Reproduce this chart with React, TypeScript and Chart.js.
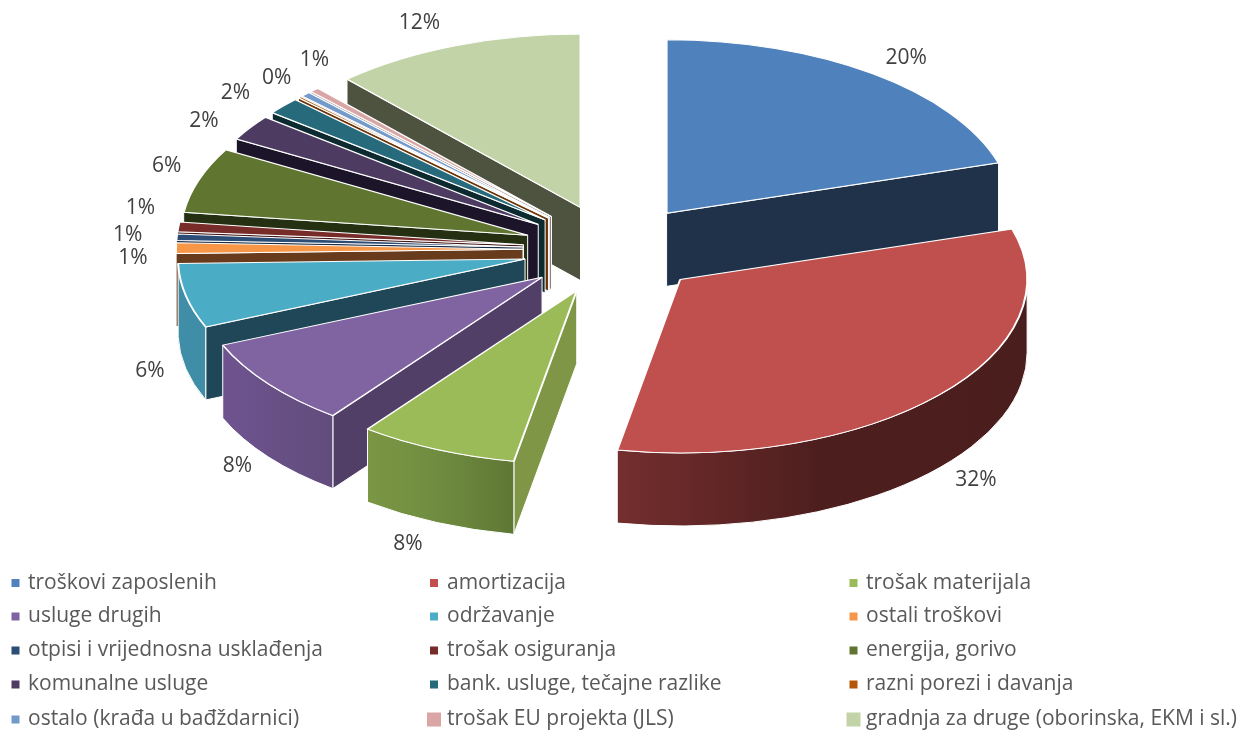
import React, { useEffect, useRef } from "react";
import { Chart, registerables } from "chart.js";

Chart.register(...registerables);

const categories = [
  "troškovi zaposlenih", "amortizacija", "trošak materijala",
  "usluge drugih", "održavanje", "ostali troškovi",
  "otpisi i vrijednosna usklađenja", "trošak osiguranja", "energija, gorivo",
  "komunalne usluge", "bank. usluge, tečajne razlike", "razni porezi i davanja",
  "ostalo (krađa u bađždarnici)", "trošak EU projekta (JLS)", "gradnja za druge (oborinska, EKM i sl.)",
];
const sliceShares = [20.3, 32.6, 7.4, 8.3, 6.0, 1.0, 0.6, 0.9, 6.1, 2.4, 1.6, 0.15, 0.45, 0.45, 11.75];
const percentLabels = ["20%", "32%", "8%", "8%", "6%", "1%", "1%", "1%", "6%", "2%", "2%", "0%", "", "1%", "12%"];
const topColors = ["#4F81BD", "#C0504D", "#9BBB59", "#8064A2", "#4BACC6", "#F79646", "#2C4D75", "#772C2A", "#5F7530", "#4D3B62", "#276A7C", "#B65708", "#729ACA", "#D9A6A5", "#C3D3A8"];
const radialWallColors = ["#1F3249", "#4D1E1E", "#7F9646", "#523F68", "#1F4757", "#683B1C", "#1A2D44", "#451A19", "#252F12", "#1C1428", "#0E2A31", "#6B3305", "#44597A", "#806261", "#4E5340"];
const rimWallLeft = ["#1F3249", "#742E2E", "#7B9744", "#6F5390", "#3F8DA6", "#683B1C", "#1A2D44", "#451A19", "#252F12", "#1C1428", "#0E2A31", "#6B3305", "#44597A", "#806261", "#4E5340"];
const rimWallMid = ["#1F3249", "#4D1E1E", "#6F8B3F", "#685085", "#3F8DA6", "#683B1C", "#1A2D44", "#451A19", "#252F12", "#1C1428", "#0E2A31", "#6B3305", "#44597A", "#806261", "#4E5340"];
const rimWallRight = ["#1F3249", "#4B1E1E", "#5F7735", "#624C7C", "#3F8DA6", "#683B1C", "#1A2D44", "#451A19", "#252F12", "#1C1428", "#0E2A31", "#6B3305", "#44597A", "#806261", "#4E5340"];
const labelShiftX = [33, 37, -29, -31, -36, -43, -49, -38, -32, -46, -48, -23, 0, 0, -36];
const labelShiftY = [-16, 85, 95, 82, 75, 10, -2, -19, -14, -7, -13, -19, 0, -30, -23];
const legendMarkerSize = [8, 8, 8, 8, 8, 8, 8, 8, 8, 8, 8, 8, 8, 14, 14];

const SQUASH = 0.5;
const EXPLODE = 90;
const DEPTH = 73;
const MIN_RIM_SPAN = 0.03;
const TEXT = "#595959";
const FONT = '"Open Sans", sans-serif';

const pie3d = {
  id: "pie3d",
  beforeDatasetsDraw(chart: any) {
    const { ctx } = chart;
    const arcs: any[] = chart.getDatasetMeta(0).data;
    const order = arcs
      .map((a, i) => ({ a, i, mid: (a.startAngle + a.endAngle) / 2 }))
      .sort((p, q) => Math.sin(p.mid) - Math.sin(q.mid));

    for (const { a, i, mid } of order) {
      const R = a.outerRadius;
      const ax = a.x + Math.cos(mid) * EXPLODE;
      const ay = a.y + Math.sin(mid) * EXPLODE * SQUASH;
      const rimPoint = (t: number) => [ax + Math.cos(t) * R, ay + Math.sin(t) * R * SQUASH];

      ctx.save();
      ctx.strokeStyle = "#FFFFFF";
      ctx.lineWidth = 1;
      ctx.lineJoin = "round";

      const radial = (t: number) => {
        const [px, py] = rimPoint(t);
        ctx.beginPath();
        ctx.moveTo(ax, ay);
        ctx.lineTo(px, py);
        ctx.lineTo(px, py + DEPTH);
        ctx.lineTo(ax, ay + DEPTH);
        ctx.closePath();
        ctx.fillStyle = radialWallColors[i];
        ctx.fill();
        ctx.stroke();
      };
      if (Math.cos(a.startAngle) < 0) radial(a.startAngle);
      if (Math.cos(a.endAngle) > 0) radial(a.endAngle);

      // front part of the rim: normalise to 0..2PI, keep 0..PI
      const TAU = Math.PI * 2;
      let s = a.startAngle % TAU;
      if (s < 0) s += TAU;
      const e = s + (a.endAngle - a.startAngle);
      const ranges: number[][] = [];
      const lo = Math.max(s, 0), hi = Math.min(e, Math.PI);
      if (hi - lo > MIN_RIM_SPAN) ranges.push([lo, hi]);
      const lo2 = Math.max(s, TAU), hi2 = Math.min(e, TAU + Math.PI);
      if (hi2 - lo2 > MIN_RIM_SPAN) ranges.push([lo2, hi2]);
      for (const [t0, t1] of ranges) {
        const [x0] = rimPoint(t0);
        const [x1] = rimPoint(t1);
        const left = Math.min(x0, x1), right = Math.max(x0, x1);
        const g = ctx.createLinearGradient(left, 0, Math.max(right, left + 1), 0);
        g.addColorStop(0, rimWallLeft[i]);
        g.addColorStop(0.5, rimWallMid[i]);
        g.addColorStop(1, rimWallRight[i]);
        ctx.beginPath();
        ctx.ellipse(ax, ay, R, R * SQUASH, 0, t0, t1, false);
        ctx.ellipse(ax, ay + DEPTH, R, R * SQUASH, 0, t1, t0, true);
        ctx.closePath();
        ctx.fillStyle = g;
        ctx.fill();
        ctx.stroke();
      }
      ctx.restore();

      // top face: the library's own arc, seen at an angle
      ctx.save();
      ctx.translate(ax, ay);
      ctx.scale(1, SQUASH);
      ctx.translate(-a.x, -a.y);
      a.draw(ctx);
      ctx.restore();
    }

    // percentage labels
    ctx.save();
    ctx.font = `21px ${FONT}`;
    ctx.fillStyle = "#404040";
    ctx.textAlign = "center";
    ctx.textBaseline = "middle";
    arcs.forEach((a, i) => {
      if (!percentLabels[i]) return;
      const mid = (a.startAngle + a.endAngle) / 2;
      const x = a.x + Math.cos(mid) * (EXPLODE + a.outerRadius);
      const y = a.y + Math.sin(mid) * (EXPLODE + a.outerRadius) * SQUASH;
      ctx.fillText(percentLabels[i], x + labelShiftX[i], y + labelShiftY[i]);
    });
    ctx.restore();
    return false;
  },
  afterDraw(chart: any) {
    const { ctx } = chart;
    const columnMarker = [15.5, 434, 853.5];
    const columnText = [28, 447, 866];
    const rowY = [583, 616.5, 650.5, 684.5, 719.5];
    ctx.save();
    ctx.font = `21px ${FONT}`;
    ctx.textAlign = "left";
    ctx.textBaseline = "middle";
    categories.forEach((name, i) => {
      const col = i % 3;
      const row = Math.floor(i / 3);
      const size = legendMarkerSize[i];
      ctx.fillStyle = topColors[i];
      ctx.fillRect(columnMarker[col] - size / 2, rowY[row] - size / 2, size, size);
      ctx.fillStyle = TEXT;
      ctx.fillText(name, columnText[col], rowY[row]);
    });
    ctx.restore();
  },
};

export default function App() {
  const ref = useRef<HTMLCanvasElement>(null);
  useEffect(() => {
    document.body.style.margin = "0";
    document.body.style.background = "#FFFFFF";
    const chart = new Chart(ref.current as HTMLCanvasElement, {
      type: "pie",
      data: {
        labels: categories,
        datasets: [{
          data: sliceShares,
          backgroundColor: topColors,
          borderColor: "#FFFFFF",
          borderWidth: 2,
          radius: 347,
        } as any],
      },
      options: {
        animation: false,
        responsive: false,
        layout: { padding: { right: 12, bottom: 232 } },
        plugins: { legend: { display: false }, tooltip: { enabled: false } },
      },
      plugins: [pie3d as any],
    });
    return () => chart.destroy();
  }, []);
  return <canvas ref={ref} width={1238} height={731} style={{ display: "block" }} />;
}
